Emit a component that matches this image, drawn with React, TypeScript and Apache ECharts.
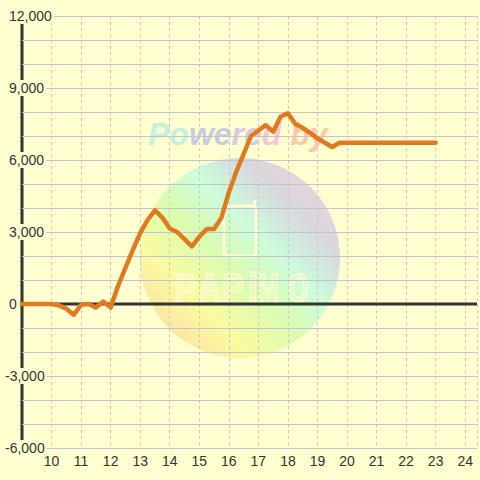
import React, { useEffect, useRef } from 'react';
import * as echarts from 'echarts';

// Hour of day (x) and value (y)
const HOURS = [
  9, 9.25, 9.5, 9.75, 10, 10.25, 10.5, 10.75, 11, 11.25, 11.5, 11.75,
  12, 12.25, 12.5, 12.75, 13, 13.25, 13.5, 13.75, 14, 14.25, 14.5, 14.75,
  15, 15.25, 15.5, 15.75, 16, 16.25, 16.5, 16.75, 17, 17.25, 17.5, 17.75,
  18, 18.25, 18.5, 18.75, 19, 19.25, 19.5, 19.75, 20, 20.25, 20.5, 20.75,
  21, 21.25, 21.5, 21.75, 22, 22.25, 22.5, 22.75, 23,
];
const VALUES = [
  0, 0, 0, 0, 0, -50, -200, -450, -30, 0, -150, 100,
  -150, 750, 1500, 2250, 2950, 3500, 3900, 3600, 3150, 3000, 2700, 2400,
  2800, 3120, 3120, 3600, 4650, 5500, 6250, 7000, 7230, 7450, 7180, 7800,
  7950, 7500, 7340, 7130, 6900, 6720, 6540, 6720, 6720, 6720, 6720, 6720,
  6720, 6720, 6720, 6720, 6720, 6720, 6720, 6720, 6720,
];
const X_MIN = 9;
const X_MAX = 24.4;
const Y_MIN = -6000;
const Y_MAX = 12000;
const Y_STEP = 3000;
const ZERO_LINE = [
  [X_MIN, 0],
  [X_MAX, 0],
];
const Y_AXIS_LINE = [
  [X_MIN, Y_MIN],
  [X_MIN, Y_MAX],
];
const LOGO_LETTERS = ['P', 'A', 'P', 'i', 'M', 'O'];

const BG = '#ffffd0';
const FONT = '"Liberation Sans", Arial, sans-serif';

export default function App() {
  const ref = useRef<HTMLDivElement>(null);
  useEffect(() => {
    if (!ref.current) return;
    const chart = echarts.init(ref.current, undefined, { renderer: 'svg' });
    const lg = (x0: number, y0: number, x1: number, y1: number, stops: [number, string][]) =>
      new echarts.graphic.LinearGradient(x0, y0, x1, y1, stops.map(([offset, color]) => ({ offset, color })));

    const letterX = [186, 210, 233, 252.5, 268, 298.5];
    const letterScale = [0.78, 0.78, 0.78, 0.8, 0.62, 0.62];
    const logoLetters = LOGO_LETTERS.map((ch, i) => ({
      type: 'text',
      z: -9,
      silent: true,
      x: letterX[i],
      y: 288,
      scaleX: letterScale[i],
      style: {
        text: ch,
        font: `bold 41px ${FONT}`,
        align: 'center',
        verticalAlign: 'middle',
        fill: 'rgba(255,255,220,0.25)',
        stroke: '#fffcd2',
        lineWidth: 1.6,
      },
    }));

    const pw = (color: string) => ({
      fill: color,
      font: `italic bold 32px ${FONT}`,
    });

    const option: any = {
      animation: false,
      backgroundColor: BG,
      grid: { left: 20, right: -2, top: 16, bottom: 32, containLabel: false },
      xAxis: {
        type: 'value',
        min: X_MIN,
        max: X_MAX,
        interval: 1,
        axisLine: { show: false, onZero: false },
        axisTick: { show: false },
        axisLabel: {
          margin: 6,
          color: '#333',
          fontSize: 14,
          fontFamily: FONT,
          formatter: (v: number) => (Number.isInteger(v) && v >= 10 ? String(v) : ''),
        },
        splitLine: { show: true, lineStyle: { color: '#c8c8c8', type: [3, 3], width: 1 } },
      },
      yAxis: {
        type: 'value',
        z: 2,
        min: Y_MIN,
        max: Y_MAX,
        interval: Y_STEP,
        axisLine: { show: false },
        axisTick: { show: false },
        minorTick: { show: false, splitNumber: 3 },
        minorSplitLine: { show: true, lineStyle: { color: '#c4c4cc', width: 1 } },
        splitLine: { show: true, lineStyle: { color: '#c4c4cc', width: 1 } },
        axisLabel: {
          align: 'left',
          margin: 19,
          backgroundColor: BG,
          padding: [1, 2],
          formatter: (v: number) => {
            const s = v.toLocaleString('en-US');
            return v < 0 ? `{n|${s}}` : `{p|${s}}`;
          },
          rich: {
            p: { padding: [0, 0, 0, 4], fontSize: 14, color: '#333', fontFamily: FONT },
            n: { fontSize: 14, color: '#333', fontFamily: FONT },
          },
        },
      },
      graphic: {
        elements: [
          {
            type: 'circle',
            z: -10,
            silent: true,
            shape: { cx: 240, cy: 258, r: 100 },
            style: {
              fill: lg(0, 1, 1, 0, [
                [0, '#ffc4a0'],
                [0.28, '#fafa98'],
                [0.46, '#d2fcac'],
                [0.6, '#c4fcdc'],
                [0.76, '#d0d0e0'],
                [1, '#ffc4dc'],
              ]),
              opacity: 0.85,
            },
          },
          {
            type: 'text',
            z: -9,
            silent: true,
            x: 148,
            y: 134,
            style: {
              text: '{a|Po}{b|we}{c|re}{d|d }{e|by}',
              verticalAlign: 'middle',
              align: 'left',
              font: `italic bold 32px ${FONT}`,
              rich: {
                a: pw('#c4f0dc'),
                b: pw('#c8cde2'),
                c: pw('#dcc8e0'),
                d: pw('#f6c6d6'),
                e: pw('#ffc8a8'),
              },
            },
          },
          {
            type: 'rect',
            z: -9,
            silent: true,
            shape: { x: 224, y: 206, width: 32, height: 50, r: 4 },
            style: { fill: 'none', stroke: '#fffcd2', lineWidth: 3 },
          },
          {
            type: 'line',
            z: -9,
            silent: true,
            shape: { x1: 254.5, y1: 207, x2: 254.5, y2: 201 },
            style: { stroke: '#fffcd2', lineWidth: 3, lineCap: 'round' },
          },
          ...logoLetters,
        ],
      },
      series: [
        {
          type: 'line',
          data: Y_AXIS_LINE,
          symbol: 'none',
          silent: true,
          clip: false,
          z: 1,
          lineStyle: { color: '#333', width: 3 },
        },
        {
          type: 'line',
          data: ZERO_LINE,
          symbol: 'none',
          silent: true,
          z: 3,
          lineStyle: { color: '#333', width: 3 },
        },
        {
          type: 'line',
          data: HOURS.map((h, i) => [h, VALUES[i]]),
          symbol: 'none',
          z: 4,
          lineStyle: { color: '#e07a20', width: 4.5, join: 'round', cap: 'round' },
        },
      ],
    };
    chart.setOption(option);
    return () => chart.dispose();
  }, []);
  return (
    <div
      ref={ref}
      style={{ position: 'fixed', left: 0, top: 0, width: 480, height: 480 }}
    />
  );
}
